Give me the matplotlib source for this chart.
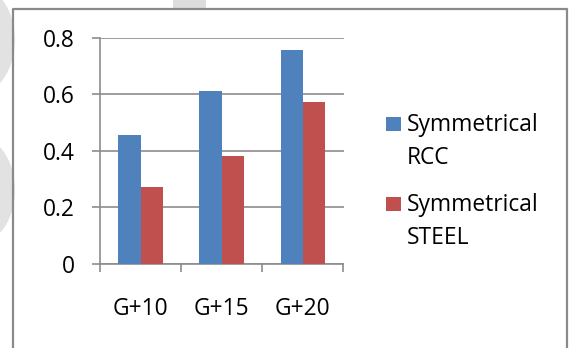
import matplotlib
matplotlib.use("Agg")
import matplotlib.pyplot as plt
import numpy as np
from matplotlib.lines import Line2D
from matplotlib.patches import Ellipse, Rectangle

categories = ["G+10", "G+15", "G+20"]
rcc = [0.455, 0.611, 0.757]
steel = [0.270, 0.382, 0.572]
series_labels = [("Symmetrical", "RCC"), ("Symmetrical", "STEEL")]

BLUE = "#4F81BD"
RED = "#C0504D"
GRID = "#8C8C8C"
W, H = 569, 348
FS = 16.4

plt.rcParams["font.family"] = ["Open Sans", "DejaVu Sans"]

fig = plt.figure(figsize=(W / 100, H / 100), dpi=100)


def fx(x):
    return x / W


def fy(y):
    return 1 - y / H


# faint background shapes behind the chart frame
fig.patches.append(Rectangle((fx(173), fy(8.5)), fx(33), 8.5 / H, transform=fig.transFigure,
                             facecolor="#DDDDDD", edgecolor="none", zorder=0))
for cy, h in [(40, 110), (190, 110)]:
    blob = Ellipse((fx(-25), fy(cy)), fx(80), h / H, transform=fig.transFigure,
                   facecolor="#E2E2E2", edgecolor="none", zorder=0)
    fig.patches.append(blob)

# chart frame (bottom edge falls outside the canvas)
frame = Line2D([fx(13), fx(13), fx(567), fx(567)], [fy(360), fy(8.5), fy(8.5), fy(360)],
               transform=fig.transFigure, color="#8A8A8A", lw=1.6, zorder=1)
fig.lines.append(frame)

ax = fig.add_axes([fx(100), fy(263.7), fx(343.5) - fx(100), fy(37.7) - fy(263.7)])
ax.set_facecolor("none")

x = np.arange(len(categories))
bw = 0.275
ax.bar(x - bw / 2, rcc, bw, color=BLUE, zorder=3)
ax.bar(x + bw / 2, steel, bw, color=RED, zorder=3)

ax.set_xlim(-0.5, len(categories) - 0.5)
ax.set_ylim(0, 0.8)
ax.set_yticks([0, 0.2, 0.4, 0.6, 0.8])
ax.set_yticklabels(["0", "0.2", "0.4", "0.6", "0.8"])
ax.yaxis.grid(True, color=GRID, lw=1.2, zorder=0)

# category labels centred, tick marks on the category boundaries
ax.set_xticks(x)
ax.set_xticklabels(categories)
ax.set_xticks(np.arange(len(categories) + 1) - 0.5, minor=True)
ax.tick_params(axis="x", which="major", length=0, pad=24, labelsize=FS)
ax.tick_params(axis="x", which="minor", length=6, width=1.2, color=GRID, direction="out")
ax.tick_params(axis="y", length=6, width=1.2, color=GRID, pad=12, labelsize=FS)

for side in ("top", "right"):
    ax.spines[side].set_visible(False)
for side in ("left", "bottom"):
    ax.spines[side].set_color(GRID)
    ax.spines[side].set_linewidth(1.2)

# legend
for (first, second), color, top, base1, base2 in zip(
        series_labels, [BLUE, RED], [117, 197], [131, 211], [164, 244]):
    fig.patches.append(Rectangle((fx(386), fy(top + 14)), fx(15), 14 / H,
                                 transform=fig.transFigure, facecolor=color, edgecolor="none"))
    fig.text(fx(407), fy(base1), first, fontsize=FS, va="baseline", ha="left")
    fig.text(fx(407), fy(base2), second, fontsize=FS, va="baseline", ha="left")

fig.savefig("out.png", dpi=100)
